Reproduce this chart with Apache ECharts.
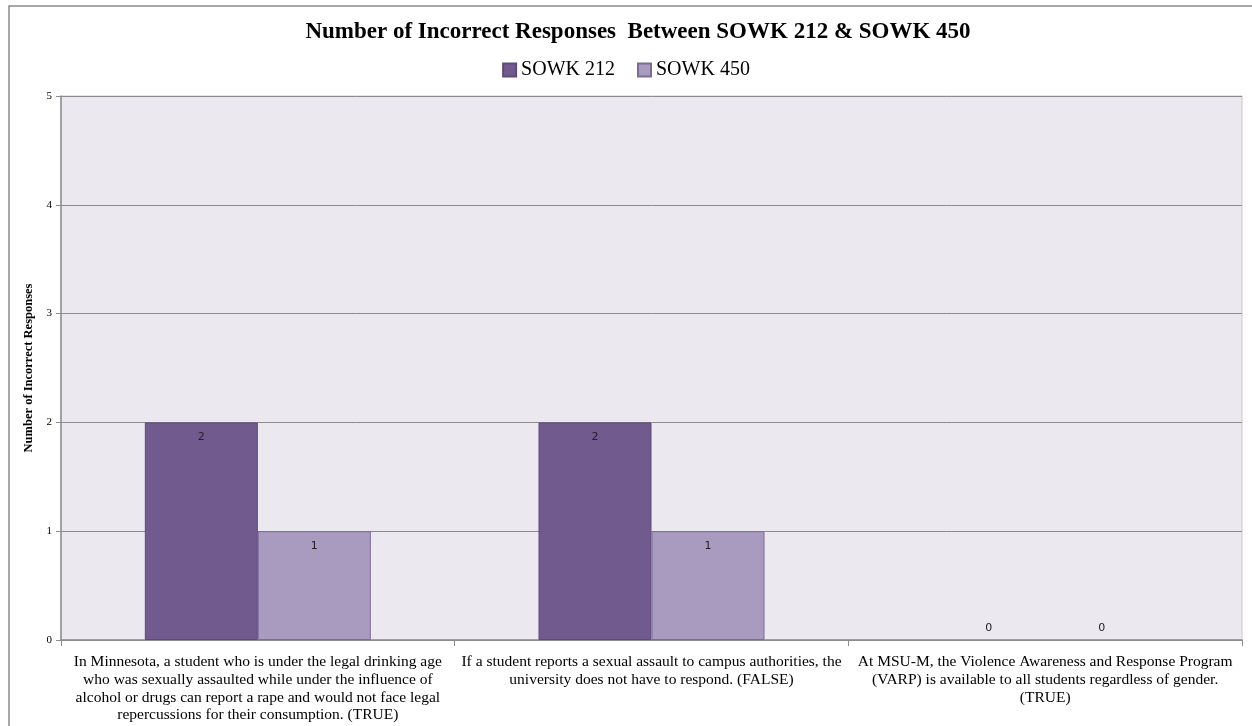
<!DOCTYPE html>
<html>
<head>
<meta charset="utf-8">
<style>
  html, body { margin: 0; padding: 0; background: #ffffff; }
  #chart { width: 1252px; height: 726px; }
</style>
<script src="https://cdn.jsdelivr.net/npm/echarts@6/dist/echarts.min.js"></script>
</head>
<body>
<div id="chart"></div>
<script>
// Survey questions (one per category), with line breaks for the axis labels
const questions = [
  'In Minnesota, a student who is under the legal drinking age\nwho was sexually assaulted while under the influence of\nalcohol or drugs can report a rape and would not face legal\nrepercussions for their consumption. (TRUE)',
  'If a student reports a sexual assault to campus authorities, the\nuniversity does not have to respond. (FALSE)',
  'At MSU-M, the Violence Awareness and Response Program\n(VARP) is available to all students regardless of gender.\n(TRUE)'
];
const sowk212 = [2, 2, 0];
const sowk450 = [1, 1, 0];
const seriesNames = ['SOWK 212', 'SOWK 450'];

const serif = '"Liberation Serif", "Times New Roman", serif';
const sans = '"DejaVu Sans", Tahoma, sans-serif';

// zero-height bars get their label just above the baseline and no outline
function barData(values) {
  return values.map(v => v === 0
    ? { value: v, label: { position: 'top', distance: 6 }, itemStyle: { borderWidth: 0 } }
    : { value: v });
}

function barSeries(name, values, color, border) {
  return {
    name: name,
    type: 'bar',
    data: barData(values),
    barWidth: 113,
    barGap: '0%',
    itemStyle: { color: color, borderColor: border, borderWidth: 1 },
    label: {
      show: true,
      position: 'insideTop',
      distance: 9,
      fontFamily: sans,
      fontSize: 11,
      color: '#222222'
    }
  };
}

const chart = echarts.init(document.getElementById('chart'), null, { renderer: 'canvas' });
chart.setOption({
  animation: false,
  backgroundColor: '#ffffff',
  graphic: [{
    type: 'rect',
    shape: { x: 9, y: 6, width: 1300, height: 800 },
    style: { fill: 'none', stroke: '#8a8a8a', lineWidth: 1.5 },
    silent: true,
    z: -1
  }],
  title: {
    text: 'Number of Incorrect Responses  Between SOWK 212 & SOWK 450',
    left: 633,
    textAlign: 'center',
    top: 16,
    textStyle: { fontFamily: serif, fontWeight: 'bold', fontSize: 23, color: '#000000' }
  },
  legend: {
    data: seriesNames,
    top: 55,
    left: 'center',
    itemWidth: 13,
    itemHeight: 13,
    itemGap: 22,
    icon: 'rect',
    textStyle: { fontFamily: serif, fontSize: 20, color: '#000000', padding: [0, 0, 0, 0] }
  },
  grid: { left: 61, right: 10, top: 96, bottom: 86, show: true, backgroundColor: '#ebe9ef', borderColor: '#c8c8c8', borderWidth: 1 },
  xAxis: {
    type: 'category',
    data: questions,
    axisLine: { lineStyle: { color: '#8c8c8c', width: 1.5 } },
    axisTick: { show: true, length: 6, lineStyle: { color: '#8c8c8c' } },
    axisLabel: {
      interval: 0,
      margin: 13,
      fontFamily: serif,
      fontSize: 15.5,
      lineHeight: 17.8,
      color: '#000000',
      align: 'center'
    }
  },
  yAxis: {
    type: 'value',
    min: 0,
    max: 5,
    interval: 1,
    name: 'Number of Incorrect Responses',
    nameLocation: 'middle',
    nameGap: 22,
    nameTextStyle: { fontFamily: serif, fontWeight: 'bold', fontSize: 12.5, color: '#000000' },
    axisLine: { show: true, lineStyle: { color: '#8c8c8c', width: 1.5 } },
    axisTick: { show: true, length: 5, lineStyle: { color: '#8c8c8c' } },
    axisLabel: { fontFamily: serif, fontSize: 11, color: '#000000', margin: 9 },
    splitLine: { lineStyle: { color: '#8c8c8c', width: 1 } }
  },
  series: [
    barSeries(seriesNames[0], sowk212, '#705a8e', '#5e4a7a'),
    barSeries(seriesNames[1], sowk450, '#a99bbf', '#7d6a98')
  ]
});
</script>
</body>
</html>
